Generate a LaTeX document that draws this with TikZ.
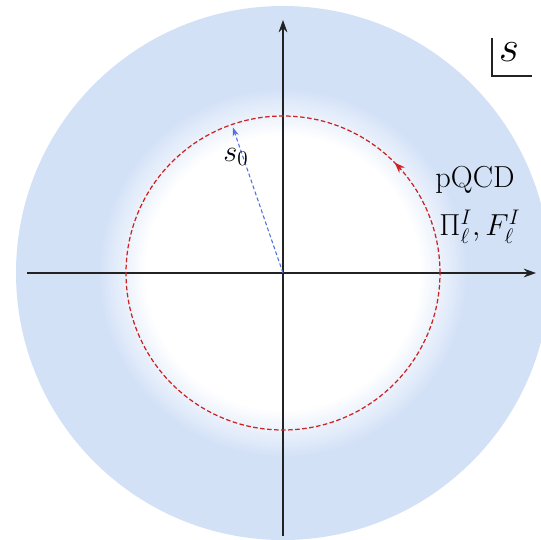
\documentclass[tikz,border=0pt]{standalone}
\usepackage{tikz}
\usepackage{xcolor}
\definecolor{regionBlue}{HTML}{D3E1F7}
\definecolor{contourRed}{HTML}{CC2222}
\definecolor{radiusBlue}{HTML}{4F6FE0}
\definecolor{axisGray}{HTML}{222222}
\usetikzlibrary{arrows.meta,decorations.markings}
\tikzset{
  axis/.style={axisGray, line width=0.8pt, -{Stealth[length=7pt,width=5pt]}},
  contour/.style={contourRed, line width=0.7pt, dash pattern=on 2.6pt off 1.4pt,
    postaction={decorate, decoration={markings,
      mark=at position 0.124 with {\arrow[contourRed]{Stealth[length=6pt,width=4.5pt]}}}}},
  radius/.style={radiusBlue, line width=0.6pt, dash pattern=on 2.2pt off 1.4pt,
    -{Stealth[length=5pt,width=3.5pt]}},
  lbl/.style={inner sep=0pt}
}

\begin{document}
\begin{tikzpicture}
  \useasboundingbox (-5.66,-5.32) rectangle (5.16,5.46);
  % blue region, fading to white inside the contour
  \fill[regionBlue] (0,0) circle (5.34cm);
  \foreach \i in {0,...,40} {
    \pgfmathsetmacro{\rr}{3.7-0.0235*\i}
    \pgfmathsetmacro{\mix}{100-2.5*\i}
    \fill[regionBlue!\mix!white] (0,0) circle (\rr cm);
  }
  \coordinate (O) at (0,0);
  \coordinate (xl) at (-5.12,0);
  \coordinate (xr) at (5.06,0);
  \coordinate (yb) at (0,-5.26);
  \coordinate (yt) at (0,5.06);
  \coordinate (s0pt) at (109:3.08);
  \draw[axis] (xl) -- (xr);
  \draw[axis] (yb) -- (yt);
  \draw[contour] (O) ++(3.14,0) arc (0:360:3.14cm);
  \draw[radius] (O) -- (s0pt);
  \node[lbl] (s0) at (-0.94,2.32) {\LARGE $s_0$};
  \node[lbl] (pqcd) at (3.84,1.86) {\LARGE pQCD};
  \node[lbl] (pif) at (3.94,0.92) {\LARGE $\Pi^I_\ell, F^I_\ell$};
  \node[lbl] (s) at (4.52,4.42) {\fontsize{30}{34}\selectfont $s$};
  \coordinate (Ltop) at (4.18,4.70);
  \coordinate (Lcorner) at (4.18,3.94);
  \coordinate (Lend) at (4.98,3.94);
  \draw[axisGray, line width=0.8pt] (Ltop) -- (Lcorner) -- (Lend);
\end{tikzpicture}
\end{document}
